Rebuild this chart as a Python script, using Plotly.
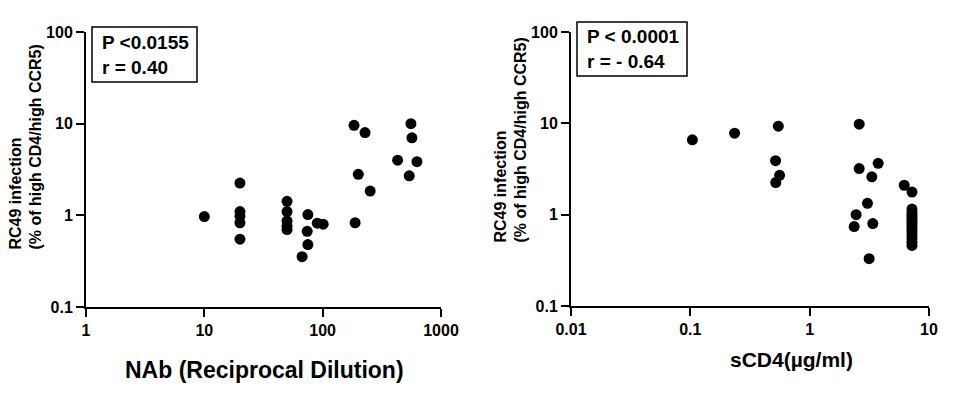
import plotly.graph_objects as go

# NAb panel (left)
nab_titer = [10, 20, 20, 20, 20, 20, 50, 50, 50, 50, 50, 75, 74, 75, 67, 90, 101,
             184, 228, 200, 252, 188, 430, 557, 568, 626, 539]
nab_infection = [0.97, 2.25, 1.1, 0.98, 0.83, 0.55, 1.42, 1.1, 0.87, 0.76, 0.7, 1.02, 0.67, 0.48, 0.354, 0.82, 0.8,
                 9.6, 8.0, 2.8, 1.84, 0.83, 4.0, 10.0, 7.0, 3.85, 2.7]

# sCD4 panel (right)
scd4_conc = [0.104, 0.235, 0.546, 0.518, 0.56, 0.52, 2.6, 2.6, 3.75, 3.32, 3.05, 2.45, 2.36, 3.38, 3.15,
             6.2, 7.2, 7.2, 7.2, 7.2, 7.2, 7.2, 7.2, 7.2, 7.2, 7.2, 7.2, 7.2, 7.2, 7.2]
scd4_infection = [6.6, 7.8, 9.3, 3.9, 2.7, 2.25, 9.8, 3.2, 3.65, 2.6, 1.33, 1.0, 0.74, 0.8, 0.33,
                  2.1, 1.77, 1.15, 1.05, 0.98, 0.92, 0.86, 0.8, 0.75, 0.7, 0.65, 0.6, 0.55, 0.5, 0.46]

ytick_vals = [0.1, 1, 10, 100]
ytick_text = ['0.1', '1', '10', '100']
nab_tick_vals = [1, 10, 100, 1000]
nab_tick_text = ['1', '10', '100', '1000']
scd4_tick_vals = [0.01, 0.1, 1, 10]
scd4_tick_text = ['0.01', '0.1', '1', '10']

# page body has an 8px margin, so the figure sits at (8, 8) in the window
OFF = 8
W, H = 954 - 2 * OFF, 400 - 2 * OFF
FONT = 'Liberation Sans, Arial, sans-serif'

def px(x):
    return (x - OFF) / W

def py(y):
    return 1 - (y - OFF) / H

def b(labels):
    return ['<b>%s</b>' % t for t in labels]

fig = go.Figure()

fig.add_trace(go.Scatter(x=nab_titer, y=nab_infection, mode='markers', xaxis='x', yaxis='y',
                         marker=dict(color='black', size=11), showlegend=False))
fig.add_trace(go.Scatter(x=scd4_conc, y=scd4_infection, mode='markers', xaxis='x2', yaxis='y2',
                         marker=dict(color='black', size=11), showlegend=False))

axis_style = dict(type='log', showline=True, linecolor='black', linewidth=2,
                  ticks='outside', ticklen=8, tickwidth=2, tickcolor='black',
                  showgrid=False, zeroline=False, mirror=False, automargin=False,
                  tickfont=dict(family=FONT, size=16, color='black'))

fig.update_layout(
    xaxis=dict(axis_style, domain=[px(86), px(441)], range=[0, 3], anchor='y',
               tickvals=nab_tick_vals, ticktext=b(nab_tick_text)),
    yaxis=dict(axis_style, domain=[py(307), py(32)], range=[-1, 2], anchor='x',
               tickvals=ytick_vals, ticktext=b(ytick_text)),
    xaxis2=dict(axis_style, domain=[px(571), px(929)], range=[-2, 1], anchor='y2',
                tickvals=scd4_tick_vals, ticktext=b(scd4_tick_text)),
    yaxis2=dict(axis_style, domain=[py(306), py(32)], range=[-1, 2], anchor='x2',
                tickvals=ytick_vals, ticktext=b(ytick_text)),
    plot_bgcolor='white', paper_bgcolor='white',
    margin=dict(l=0, r=0, t=0, b=0, autoexpand=False),
    width=W, height=H,
)

txt = dict(family=FONT, color='black')
ytitle = '<b>RC49 infection</b><br><b>(% of high CD4/high CCR5)</b>'

annotations = [
    # y axis titles
    dict(text=ytitle, x=px(25), y=py(252), xref='paper', yref='paper', xanchor='center', yanchor='bottom',
         textangle=-90, align='left', showarrow=False, font=dict(txt, size=16)),
    dict(text=ytitle, x=px(510), y=py(245), xref='paper', yref='paper', xanchor='center', yanchor='bottom',
         textangle=-90, align='left', showarrow=False, font=dict(txt, size=16)),
    # x axis titles
    dict(text='<b>NAb (Reciprocal Dilution)</b>', x=px(264), y=py(370), xref='paper', yref='paper',
         xanchor='center', yanchor='middle', showarrow=False, font=dict(txt, size=23)),
    dict(text='<b>sCD4(µg/ml)</b>', x=px(791), y=py(359), xref='paper', yref='paper',
         xanchor='center', yanchor='middle', showarrow=False, font=dict(txt, size=21)),
    # stats boxes
    dict(text='<b>P <0.0155</b><br><b>r = 0.40</b>', x=px(100), y=py(54.5), xref='paper', yref='paper',
         xanchor='left', yanchor='middle', align='left', showarrow=False, font=dict(txt, size=19)),
    dict(text='<b>P < 0.0001</b><br><b>r = - 0.64</b>', x=px(585), y=py(49), xref='paper', yref='paper',
         xanchor='left', yanchor='middle', align='left', showarrow=False, font=dict(txt, size=19)),
]
fig.update_layout(annotations=annotations)

fig.add_shape(type='rect', xref='paper', yref='paper', x0=px(92), x1=px(197), y0=py(82), y1=py(27),
              line=dict(color='black', width=1.5), fillcolor='rgba(0,0,0,0)', layer='above')
fig.add_shape(type='rect', xref='paper', yref='paper', x0=px(577), x1=px(687), y0=py(76), y1=py(22),
              line=dict(color='black', width=1.5), fillcolor='rgba(0,0,0,0)', layer='above')

fig.write_html("out.html")
